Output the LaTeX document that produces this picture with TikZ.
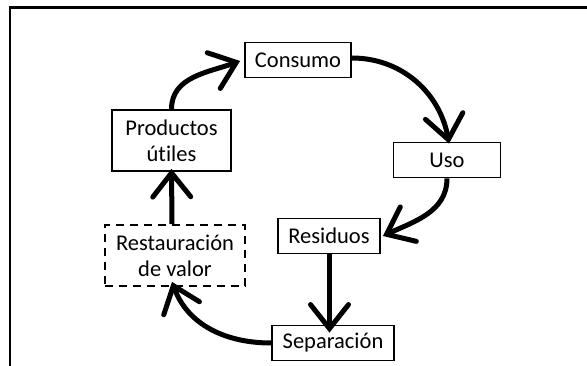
\documentclass[tikz,border=0pt]{standalone}
\usepackage{fontspec}
\setmainfont[Ligatures={NoCommon}]{Carlito}
\usetikzlibrary{arrows.meta}
\begin{document}
\begin{tikzpicture}[x=1pt,y=-1pt,
  box/.style={draw, line width=1.8pt, inner sep=0pt, align=center,
    font=\fontsize{22.5}{26}\selectfont},
  flow/.style={line width=5pt, -{Straight Barb[length=24pt,width=38pt,line cap=round]}},
]
\useasboundingbox (0,0) rectangle (587,366);
\draw[line width=2.5pt] (10,366) -- (10,7.5) -- (587,7.5);

\node[box, minimum width=106pt, minimum height=35pt] (cons) at (298,60) {Consumo};
\node[box, minimum width=119pt, minimum height=61pt] (prod) at (171.5,140.5) {Productos\\útiles};
\node[box, minimum width=107pt, minimum height=35pt] (uso) at (447,160) {Uso};
\node[box, minimum width=102pt, minimum height=35pt] (res) at (329,236) {Residuos};
\node[box, dashed, dash pattern=on 8pt off 6pt, minimum width=140pt, minimum height=61pt] (rest) at (175,255.5) {Restauración\\de valor};
\node[box, minimum width=122pt, minimum height=35pt] (sep) at (333,343) {Separación};

\draw[flow] (prod.north) to[out=90,in=200] ([xshift=-4pt,yshift=-1pt]cons.west);
\draw[flow] ([yshift=2pt]cons.east) to[out=0,in=100] ([xshift=2pt,yshift=-2pt]uso.north);
\draw[flow] (uso.south) to[out=-90,in=25] ([xshift=2pt]res.east);
\draw[flow] ([xshift=0.5pt]res.south) -- ([xshift=-3.5pt,yshift=-8pt]sep.north);
\draw[flow] (sep.west) to[out=180,in=-70] ([xshift=-3pt,yshift=5pt]rest.south);
\draw[flow] ([xshift=-3pt]rest.north) -- ([yshift=3pt]prod.south);
\end{tikzpicture}
\end{document}
